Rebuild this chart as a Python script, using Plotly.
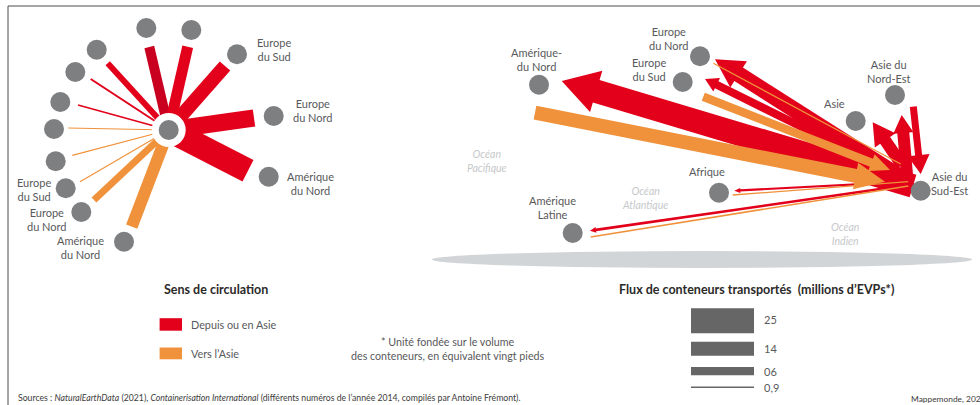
import math
import plotly.graph_objects as go

RED = "#e2001a"
DARK_RED = "#c9001f"
ORANGE = "#f0923b"
NODE = "#7e7f81"
TXT = "#58595b"
BAR = "#666667"
FONT = "Lato"

# ---- left panel: hub and spokes (flows in millions of TEU, schematic)
hub_x = [168.7]
hub_y = [130.0]
spoke_end_x = [149.3, 187.7, 225.0, 254.0, 248.0, 131.7, 94.0, 80.0, 72.3, 68.3, 78.0, 90.7, 107.7]
spoke_end_y = [47.0, 46.7, 66.0, 118.0, 170.7, 226.7, 200.0, 181.7, 155.3, 128.0, 105.0, 79.0, 63.3]
spoke_flow = [10, 11, 14, 17, 24, 12, 7, 1.2, 1.2, 1.2, 1.6, 2, 6]
spoke_color = [DARK_RED, RED, RED, RED, RED, ORANGE, ORANGE, ORANGE, ORANGE, ORANGE, RED, RED, RED]
left_node_x = [146.3, 191.3, 237.0, 273.7, 268.7, 124.0, 81.3, 65.7, 55.7, 54.0, 60.3, 75.3, 96.7]
left_node_y = [28.0, 30.0, 54.3, 116.0, 176.7, 241.7, 212.0, 188.3, 161.3, 129.0, 102.0, 72.0, 49.7]

# ---- right panel: nodes
map_node_x = [539.0, 700.0, 682.7, 895.0, 855.7, 920.7, 719.0, 572.7]
map_node_y = [84.7, 56.3, 82.0, 95.0, 121.0, 190.7, 192.7, 233.0]

# ---- right panel: flows (from, to, flow, arrow head width, head length; draw order)
flow_from_x = [913.0, 905.0, 903.0, 902.0, 908.0, 913.3, 908.3, 908.0, 535.0, 703.3, 713.3, 732.7, 590.7]
flow_from_y = [186.0, 180.0, 177.0, 165.0, 186.0, 106.7, 181.7, 185.0, 112.7, 96.7, 63.3, 195.0, 237.0]
flow_to_x = [561.7, 715.0, 705.0, 872.7, 901.7, 920.7, 734.3, 590.0, 885.0, 890.0, 900.7, 908.3, 908.3]
flow_to_y = [81.0, 59.3, 79.0, 122.3, 115.0, 174.0, 190.7, 230.7, 181.7, 170.0, 164.0, 181.7, 186.0]
flow_val = [23.5, 16, 8, 12, 12, 7, 2.2, 2.6, 14, 8.5, 1.3, 1.3, 1.6]
flow_head_w = [43, 31, 15, 25, 20, 22, 5, 6, 27, 18, 0, 0, 0]
flow_head_l = [36, 28, 13, 22, 18, 19, 6, 6, 30, 20, 0, 0, 0]
flow_color = [RED, RED, RED, RED, RED, RED, RED, RED, ORANGE, ORANGE, ORANGE, ORANGE, ORANGE]

# ---- legends
legend_labels = ["Depuis ou en Asie", "Vers l’Asie"]
size_labels = ["25", "14", "06", "0,9"]
size_heights = [25, 14, 8.3, 1.5]
size_centers = [320.8, 348.7, 371.2, 387.3]

# ---- texts
labels = [
    (274, 49.9, "Europe<br>du Sud"),
    (312.7, 110.6, "Europe<br>du Nord"),
    (310, 183.3, "Amérique<br>du Nord"),
    (34.3, 189.5, "Europe<br>du Sud"),
    (46.7, 219.5, "Europe<br>du Nord"),
    (80.7, 247.2, "Amérique<br>du Nord"),
    (536, 59, "Amérique-<br>du Nord"),
    (669.3, 38.7, "Europe<br>du Nord"),
    (648.7, 69.5, "Europe<br>du Sud"),
    (888.7, 71.5, "Asie du<br>Nord-Est"),
    (834.3, 103.3, "Asie"),
    (949.3, 183, "Asie du<br>Sud-Est"),
    (706.7, 171, "Afrique"),
    (552, 207.4, "Amérique<br>Latine"),
]
oceans = [
    (487, 161, "Océan<br>Pacifique"),
    (645, 198.2, "Océan<br>Atlantique"),
    (845, 234.4, "Océan<br>Indien"),
]

fig = go.Figure()


def poly(xs, ys, color):
    fig.add_trace(go.Scatter(x=xs, y=ys, mode="lines", fill="toself", fillcolor=color,
                             line=dict(width=0, color=color, simplify=False),
                             hoverinfo="skip", showlegend=False))


def bar_between(x0, y0, x1, y1, w, color):
    dx, dy = x1 - x0, y1 - y0
    n = math.hypot(dx, dy)
    px, py = -dy / n * w / 2, dx / n * w / 2
    poly([x0 + px, x1 + px, x1 - px, x0 - px, x0 + px],
         [y0 + py, y1 + py, y1 - py, y0 - py, y0 + py], color)


def arrow(x0, y0, x1, y1, w, hw, hl, color):
    if hw == 0:
        bar_between(x0, y0, x1, y1, w, color)
        return
    dx, dy = x1 - x0, y1 - y0
    n = math.hypot(dx, dy)
    ux, uy = dx / n, dy / n
    px, py = -uy, ux
    bx, by = x1 - ux * hl, y1 - uy * hl
    xs = [x0 + px * w / 2, bx + px * w / 2, bx + px * hw / 2, x1, bx - px * hw / 2, bx - px * w / 2, x0 - px * w / 2]
    ys = [y0 + py * w / 2, by + py * w / 2, by + py * hw / 2, y1, by - py * hw / 2, by - py * w / 2, y0 - py * w / 2]
    poly(xs + xs[:1], ys + ys[:1], color)


def text(x, y, s, size=11, color=TXT, anchor="center"):
    fig.add_annotation(x=x, y=y, text=s, showarrow=False, xanchor=anchor, yanchor="middle",
                       font=dict(family=FONT, size=size, color=color), xref="x", yref="y")


# frame
fig.add_trace(go.Scatter(x=[8, 8, 980], y=[405, 6, 6], mode="lines", line=dict(color="#4d4d4f", width=1),
                         hoverinfo="skip", showlegend=False))

# ground ellipse
fig.add_shape(type="circle", x0=432, x1=972, y0=251, y1=268, xref="x", yref="y",
              fillcolor="#d2d5d7", line=dict(width=0), layer="below")

# left spokes
for ex, ey, f, c in zip(spoke_end_x, spoke_end_y, spoke_flow, spoke_color):
    bar_between(hub_x[0], hub_y[0], ex, ey, f, c)
fig.add_trace(go.Scatter(x=hub_x, y=hub_y, mode="markers", marker=dict(size=34, color="white", line=dict(width=0)),
                         hoverinfo="skip", showlegend=False))
fig.add_trace(go.Scatter(x=left_node_x + hub_x, y=left_node_y + hub_y, mode="markers",
                         marker=dict(size=20, color=NODE, line=dict(width=0)), hoverinfo="skip", showlegend=False))

# right flows
for i in range(len(flow_val)):
    arrow(flow_from_x[i], flow_from_y[i], flow_to_x[i], flow_to_y[i], flow_val[i],
          flow_head_w[i], flow_head_l[i], flow_color[i])
fig.add_trace(go.Scatter(x=map_node_x, y=map_node_y, mode="markers",
                         marker=dict(size=20, color=NODE, line=dict(width=0)), hoverinfo="skip", showlegend=False))

# legend: direction
poly([159.6, 182, 182, 159.6, 159.6], [318.2, 318.2, 330.7, 330.7, 318.2], RED)
poly([159.6, 182, 182, 159.6, 159.6], [347.5, 347.5, 359.3, 359.3, 347.5], ORANGE)
text(189.3, 324.3, legend_labels[0], 10.8, TXT, "left")
text(189.3, 353.2, legend_labels[1], 10.8, TXT, "left")

# legend: sizes
for c, h, lab in zip(size_centers, size_heights, size_labels):
    poly([691, 754, 754, 691, 691], [c - h / 2, c - h / 2, c + h / 2, c + h / 2, c - h / 2], BAR)
    text(762.3, c - (1.5 if h > 20 else 0), lab, 11, TXT, "left")

for x, y, s in labels:
    text(x, y, s, 11)
for x, y, s in oceans:
    text(x, y, "<i>" + s + "</i>", 10.5, "#c6c9cb")

text(215.7, 289, "<b>Sens de circulation</b>", 12.5, "#2b2a29")
text(756, 289, "<b>Flux de conteneurs transportés  (millions d’EVPs*)</b>", 12.5, "#2b2a29")
text(448, 348.5, "* Unité fondée sur le volume<br>des conteneurs, en équivalent vingt pieds", 10.7, TXT)
text(15.7, 397, "Sources : <i>NaturalEarthData</i> (2021), <i>Containerisation International</i> "
     "(différents numéros de l’année 2014, compilés par Antoine Frémont).", 8.7, "#3c3c3b", "left")
text(908.5, 399, "Mappemonde, 2022", 8.4, "#3c3c3b", "left")

fig.update_layout(
    width=980, height=405, margin=dict(l=0, r=0, t=0, b=0),
    paper_bgcolor="white", plot_bgcolor="white", showlegend=False,
    xaxis=dict(range=[0, 980], visible=False, fixedrange=True),
    yaxis=dict(range=[405, 0], visible=False, fixedrange=True),
)
fig.write_html("out.html", config={"displayModeBar": False},
               post_script="document.documentElement.style.overflow='hidden';"
                           "document.body.style.margin='0';document.body.style.overflow='hidden';")
